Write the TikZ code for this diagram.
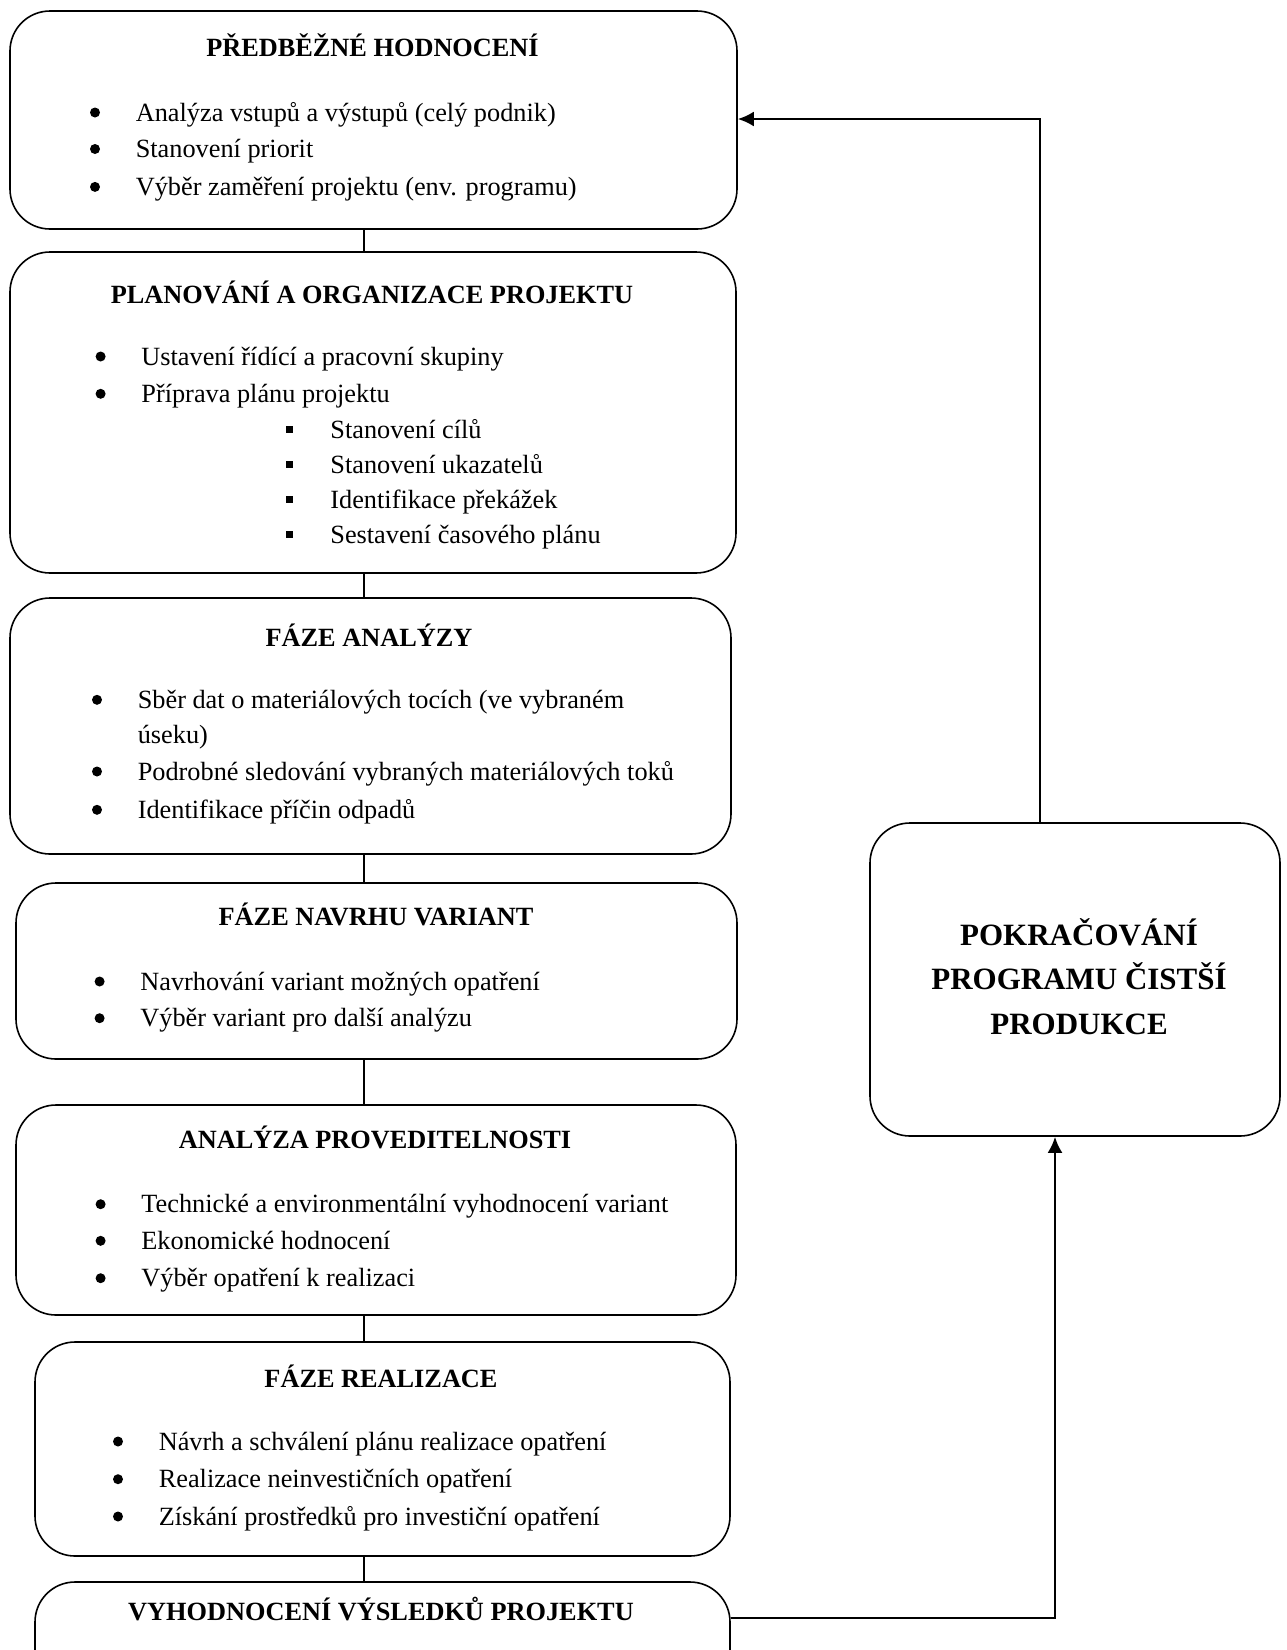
\documentclass[tikz,border=0pt]{standalone}
\usepackage{fontspec}
\setmainfont{Liberation Serif}
\usetikzlibrary{positioning,arrows.meta}

\tikzset{
  faze/.style={draw, line width=1.6pt, rounded corners=40pt, inner sep=0pt},
  nadpis/.style={anchor=base, inner sep=0pt, font=\fontsize{26.3}{34}\selectfont\bfseries},
  polozka/.style={anchor=base west, inner sep=0pt, font=\fontsize{26.3}{34}\selectfont},
  sipka/.style={line width=2.4pt, -{Latex[length=16pt,width=15pt]}},
}
\newcommand{\ctverec}{\llap{\rule[5pt]{7pt}{7pt}\hspace{37.5pt}}}

\begin{document}
\begin{tikzpicture}[x=1pt, y=-1pt, line width=1.6pt]
\clip (0,0) rectangle (1287,1650);

% ramecky fazi
\node[faze, minimum width=727pt, minimum height=218pt] (predbezne) at (373.5,120) {};
\node[faze, minimum width=726pt, minimum height=321pt] (planovani) at (373,412.5) {};
\node[faze, minimum width=721pt, minimum height=256pt] (analyza) at (370.5,726) {};
\node[faze, minimum width=721pt, minimum height=176pt] (navrh) at (376.5,971) {};
\node[faze, minimum width=720pt, minimum height=210pt] (proveditelnost) at (376,1210) {};
\node[faze, minimum width=695pt, minimum height=214pt] (realizace) at (382.5,1449) {};
\node[faze, minimum width=695pt, minimum height=118pt] (vyhodnoceni) at (382.5,1641) {};
\node[faze, minimum width=410pt, minimum height=313pt] (pokracovani) at (1075,979.5) {};

% predbezne hodnoceni
\node[nadpis] (t1) at (372.5,56.7) {PŘEDBĚŽNÉ HODNOCENÍ};
\node[polozka] (p11) at (135,121) {Analýza vstupů a výstupů (celý podnik)};
\node[polozka] (p12) at (135,157.5) {Stanovení priorit};
\node[polozka] (p13) at (135,195.4) {Výběr zaměření projektu (env. programu)};

% planovani
\node[nadpis] (t2) at (372,303.3) {PLANOVÁNÍ A ORGANIZACE PROJEKTU};
\node[polozka] (p21) at (140.6,365) {Ustavení řídící a pracovní skupiny};
\node[polozka] (p22) at (140.6,402.3) {Příprava plánu projektu};
\node[polozka] (p23) at (329.6,438.3) {\ctverec Stanovení cílů};
\node[polozka] (p24) at (329.6,473.3) {\ctverec Stanovení ukazatelů};
\node[polozka] (p25) at (329.6,508.3) {\ctverec Identifikace překážek};
\node[polozka] (p26) at (329.6,543.3) {\ctverec Sestavení časového plánu};

% analyza
\node[nadpis] (t3) at (369,646) {FÁZE ANALÝZY};
\node[polozka] (p31) at (137,708.3) {Sběr dat o materiálových tocích (ve vybraném};
\node[polozka] (p32) at (137,743.3) {úseku)};
\node[polozka] (p33) at (137,780) {Podrobné sledování vybraných materiálových toků};
\node[polozka] (p34) at (137,818.3) {Identifikace příčin odpadů};

% navrh variant
\node[nadpis] (t4) at (376,925) {FÁZE NAVRHU VARIANT};
\node[polozka] (p41) at (139.6,990) {Navrhování variant možných opatření};
\node[polozka] (p42) at (139.6,1026.7) {Výběr variant pro další analýzu};

% proveditelnost
\node[nadpis] (t5) at (375,1148.3) {ANALÝZA PROVEDITELNOSTI};
\node[polozka] (p51) at (140.6,1212.7) {Technické a environmentální vyhodnocení variant};
\node[polozka] (p52) at (140.6,1249.3) {Ekonomické hodnocení};
\node[polozka] (p53) at (140.6,1286.7) {Výběr opatření k realizaci};

% realizace
\node[nadpis] (t6) at (381,1387.3) {FÁZE REALIZACE};
\node[polozka] (p61) at (158,1450) {Návrh a schválení plánu realizace opatření};
\node[polozka] (p62) at (158,1487.7) {Realizace neinvestičních opatření};
\node[polozka] (p63) at (158,1525) {Získání prostředků pro investiční opatření};

% vyhodnoceni
\node[nadpis] (t7) at (381,1620.5) {VYHODNOCENÍ VÝSLEDKŮ PROJEKTU};

% pokracovani
\node[anchor=base, inner sep=0pt, align=center,
      font=\fontsize{31}{44.5}\selectfont\bfseries] (t8) at (1079,1034)
  {POKRAČOVÁNÍ\\PROGRAMU ČISTŠÍ\\PRODUKCE};

% odrazky
\foreach \p in {p11,p12,p13,p21,p22,p31,p33,p34,p41,p42,p51,p52,p53,p61,p62,p63}
  \fill ([xshift=-40pt,yshift=8.5pt]\p.base west) circle (5pt);

% spojnice
\coordinate (osa) at (364,0);
\coordinate (horni) at (1040,119);
\coordinate (dolni) at (1055,1618);

\draw (predbezne.south -| osa) -- (planovani.north -| osa);
\draw (planovani.south -| osa) -- (analyza.north -| osa);
\draw (analyza.south -| osa) -- (navrh.north -| osa);
\draw (navrh.south -| osa) -- (proveditelnost.north -| osa);
\draw (proveditelnost.south -| osa) -- (realizace.north -| osa);
\draw (realizace.south -| osa) -- (vyhodnoceni.north -| osa);

\draw[sipka] (pokracovani.north -| horni) |- (predbezne.east |- horni);
\draw[sipka] (vyhodnoceni.east |- dolni) -| (pokracovani.south -| dolni);
\end{tikzpicture}
\end{document}
